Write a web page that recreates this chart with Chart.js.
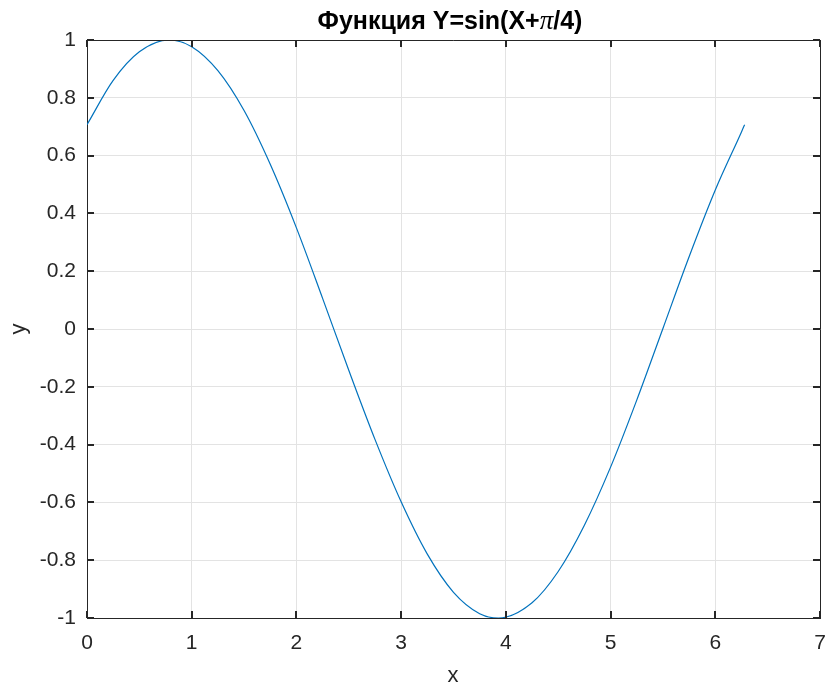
<!DOCTYPE html>
<html>
<head>
<meta charset="utf-8">
<script src="https://cdn.jsdelivr.net/npm/chart.js@4/dist/chart.umd.min.js"></script>
<style>
  body { margin: 0; background: #fff; }
  canvas { display: block; }
</style>
</head>
<body>
<canvas id="sinChart" width="829" height="690"></canvas>
<script>
// ==========================
// DATA
// ==========================

const xValues = [0, 0.25, 0.5, 0.785, 1.0, 1.25, 1.5, 1.75, 2.0, 2.25, 2.5, 2.75,
                 3.0, 3.25, 3.5, 3.75, 3.93, 4.25, 4.5, 4.75, 5.0, 5.25, 5.5,
                 5.75, 6.0, 6.25, 6.28];

const yValues = [0.707, 0.86, 0.959, 1.0, 0.977, 0.894, 0.756, 0.57, 0.35, 0.106,
                 -0.143, -0.382, -0.598, -0.779, -0.911, -0.985, -1.0, -0.947,
                 -0.839, -0.679, -0.478, -0.246, 0.002, 0.25, 0.481, 0.682, 0.707];

const xTicks = [0, 1, 2, 3, 4, 5, 6, 7];
const yTicks = [-1, -0.8, -0.6, -0.4, -0.2, 0, 0.2, 0.4, 0.6, 0.8, 1];

const axisColor = "#262626";
const gridColor = "#e3e3e3";
const fontName = "'Liberation Sans', Arial, sans-serif";

// ==========================
// BOX, INNER TICKS, TITLES
// ==========================

const matlabBox = {
    id: "matlabBox",
    afterDraw(chart) {
        const ctx = chart.ctx;
        const a = chart.chartArea;
        const xs = chart.scales.x;
        const ys = chart.scales.y;

        ctx.save();
        ctx.strokeStyle = axisColor;
        ctx.lineWidth = 1;
        ctx.beginPath();
        ctx.moveTo(a.left, a.top + 0.5);
        ctx.lineTo(a.right + 0.5, a.top + 0.5);
        ctx.lineTo(a.right + 0.5, a.bottom);
        ctx.stroke();

        // inner ticks
        ctx.lineWidth = 2;
        ctx.beginPath();
        xTicks.forEach(v => {
            const px = Math.round(xs.getPixelForValue(v));
            ctx.moveTo(px, a.bottom);
            ctx.lineTo(px, a.bottom - 7);
            ctx.moveTo(px, a.top);
            ctx.lineTo(px, a.top + 7);
        });
        yTicks.forEach(v => {
            const py = Math.round(ys.getPixelForValue(v));
            ctx.moveTo(a.left, py);
            ctx.lineTo(a.left + 7, py);
            ctx.moveTo(a.right, py);
            ctx.lineTo(a.right - 7, py);
        });
        ctx.stroke();

        // title with italic pi
        ctx.fillStyle = "#000";
        ctx.textBaseline = "alphabetic";
        const parts = [
            { t: "Функция Y=sin(X+", f: "bold 25px " + fontName },
            { t: "π", f: "italic 27px 'Liberation Serif', serif" },
            { t: "/4)", f: "bold 25px " + fontName }
        ];
        let total = 0;
        parts.forEach(p => {
            ctx.font = p.f;
            p.w = ctx.measureText(p.t).width;
            total += p.w;
        });
        let x = 450 - total / 2;
        ctx.textAlign = "left";
        parts.forEach(p => {
            ctx.font = p.f;
            ctx.fillText(p.t, x, 29);
            x += p.w;
        });

        // axis titles
        ctx.fillStyle = axisColor;
        ctx.font = "22px " + fontName;
        ctx.textAlign = "center";
        ctx.textBaseline = "middle";
        ctx.fillText("x", 453, 676);
        ctx.save();
        ctx.translate(19, 329);
        ctx.rotate(-Math.PI / 2);
        ctx.fillText("y", 0, 0);
        ctx.restore();

        ctx.restore();
    }
};

// ==========================
// CHART
// ==========================

const ctx = document.getElementById("sinChart");

new Chart(ctx, {
    type: "line",
    data: {
        datasets: [{
            data: xValues.map((x, i) => ({ x: x, y: yValues[i] })),
            borderColor: "#0072BD",
            borderWidth: 1.2,
            pointRadius: 0,
            fill: false,
            cubicInterpolationMode: "monotone"
        }]
    },
    options: {
        responsive: false,
        animation: false,
        events: [],
        layout: {
            padding: { left: 0, top: 40, right: 9, bottom: 0 }
        },
        plugins: {
            legend: { display: false },
            title: { display: false },
            tooltip: { enabled: false }
        },
        scales: {
            x: {
                type: "linear",
                min: 0,
                max: 7,
                afterBuildTicks: s => { s.ticks = xTicks.map(v => ({ value: v })); },
                afterFit: s => {
                    s.height = 72;
                    s.paddingLeft = 0;
                    s.paddingRight = 0;
                },
                grid: { color: gridColor, drawTicks: false },
                border: { color: axisColor, width: 1 },
                ticks: {
                    color: axisColor,
                    font: { family: fontName, size: 21 },
                    padding: 13,
                    maxRotation: 0
                }
            },
            y: {
                type: "linear",
                min: -1,
                max: 1,
                afterBuildTicks: s => { s.ticks = yTicks.map(v => ({ value: v })); },
                afterFit: s => {
                    s.width = 87;
                    s.paddingTop = 0;
                    s.paddingBottom = 0;
                },
                grid: { color: gridColor, drawTicks: false },
                border: { color: axisColor, width: 1 },
                ticks: {
                    color: axisColor,
                    font: { family: fontName, size: 21 },
                    padding: 11,
                    callback: v => String(Math.round(v * 10) / 10)
                }
            }
        }
    },
    plugins: [matlabBox]
});
</script>
</body>
</html>
